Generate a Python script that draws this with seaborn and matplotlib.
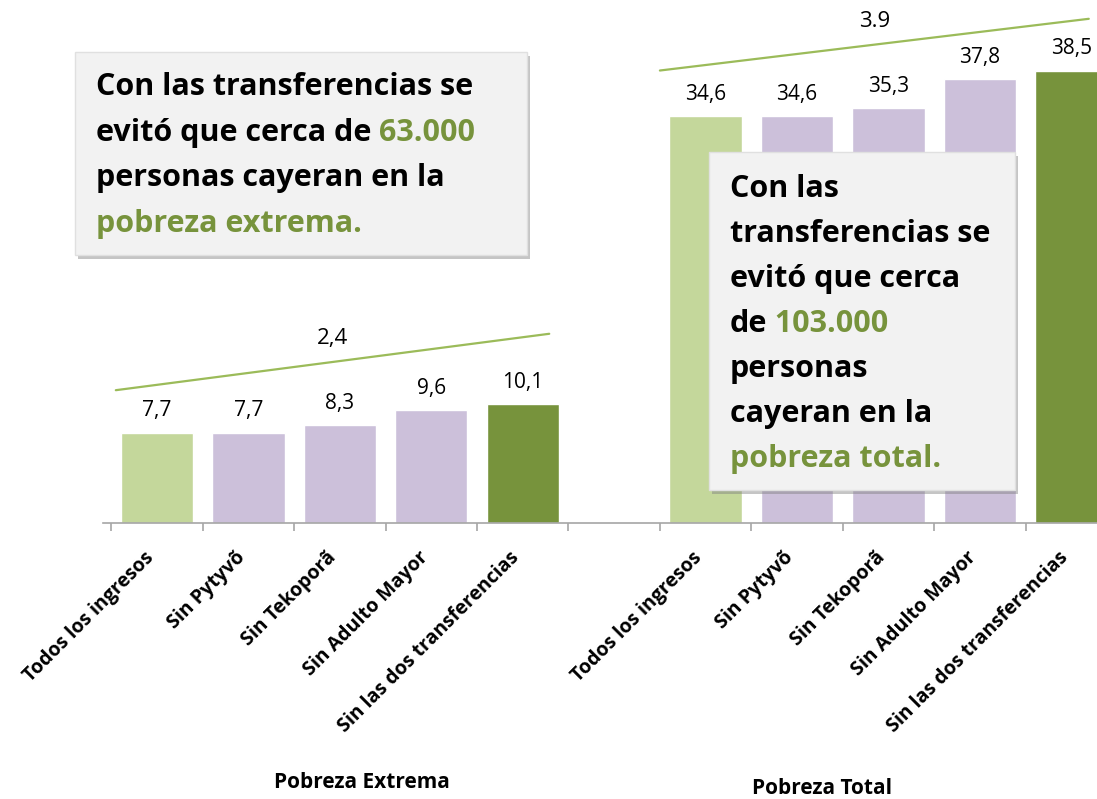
import matplotlib
matplotlib.use("Agg")
import matplotlib.pyplot as plt
from matplotlib.patches import FancyBboxPatch
from matplotlib.text import Annotation
import seaborn as sns
import pandas as pd
import numpy as np

# data
categories = ["Todos los ingresos", "Sin Pytyvõ", "Sin Tekoporã",
              "Sin Adulto Mayor", "Sin las dos transferencias"]
extrema = [7.7, 7.7, 8.3, 9.6, 10.1]
total = [34.6, 34.6, 35.3, 37.8, 38.5]
groups = ["Pobreza Extrema", "Pobreza Total"]
gap_labels = ["2,4", "3.9"]

LIGHT_GREEN = "#c4d79b"
LAVENDER = "#ccc0da"
DARK_GREEN = "#77933c"
TEXT_GREEN = "#77933c"
LINE_GREEN = "#9bbb59"
bar_colors = [LIGHT_GREEN, LAVENDER, LAVENDER, LAVENDER, DARK_GREEN]


def build_frame():
    rows = []
    for g, vals in zip(groups, [extrema, total]):
        for cat, v, col in zip(categories, vals, bar_colors):
            rows.append({"key": f"{g}|{cat}", "label": cat, "value": v,
                         "group": g, "color": col})
    return pd.DataFrame(rows)


def rich_line(fig, x, y, parts, size):
    # one line of text whose pieces have different colours
    s, c = parts[0]
    t = fig.text(x, y, s, color=c, fontsize=size, fontweight="bold",
                 va="baseline", ha="left", zorder=5)
    for s, c in parts[1:]:
        t = fig.add_artist(Annotation(s, xy=(1, 0), xycoords=t, va="bottom",
                                      ha="left", color=c, fontsize=size,
                                      fontweight="bold", zorder=5))


def text_box(fig, x0, y0, w, h):
    px = 1 / fig.bbox.width
    py = 1 / fig.bbox.height
    shadow = FancyBboxPatch((x0 + 3 * px, y0 - 4 * py), w, h,
                            boxstyle="square,pad=0", transform=fig.transFigure,
                            facecolor="#7f7f7f", edgecolor="none", alpha=0.45,
                            zorder=3)
    box = FancyBboxPatch((x0, y0), w, h, boxstyle="square,pad=0",
                         transform=fig.transFigure, facecolor="#f2f2f2",
                         edgecolor="#e0e0e0", linewidth=1.0, zorder=4)
    fig.add_artist(shadow)
    fig.add_artist(box)


def main():
    sns.set_style("white")
    plt.rcParams["font.family"] = ["Open Sans", "DejaVu Sans"]
    plt.rcParams["text.color"] = "black"
    plt.rcParams["xtick.labelcolor"] = "black"

    df = build_frame()
    order = list(df["key"][:5]) + ["gap"] + list(df["key"][5:])
    palette = dict(zip(df["key"], df["color"]))

    W, H = 1097, 799
    fig = plt.figure(figsize=(W / 100, H / 100), dpi=100)
    ax = fig.add_axes([103 / W, 1 - 523 / H, 1 - 103 / W, 523 / H])

    sns.barplot(data=df, x="key", y="value", hue="key", order=order,
                palette=palette, width=0.79, legend=False, ax=ax,
                saturation=1)

    for c in ax.containers:
        ax.bar_label(c, labels=[f"{v:.1f}".replace(".", ",") for v in c.datavalues],
                     padding=8, fontsize=15, color="black")

    ax.set_yticks([])
    ax.set_ylabel("")
    ax.set_xlabel("")
    for side in ["left", "top", "right"]:
        ax.spines[side].set_visible(False)
    ax.spines["bottom"].set_color("#a6a6a6")
    ax.spines["bottom"].set_linewidth(1.2)

    pos = [i for i, k in enumerate(order) if k != "gap"]
    # label anchors sit slightly left of the bar centres (ticks are hidden)
    ax.set_xticks([p - 0.07 for p in pos], labels=list(df["label"]))
    for lab in ax.get_xticklabels():
        lab.set_rotation(45)
        lab.set_ha("right")
        lab.set_va("center")
        lab.set_rotation_mode("anchor")
        lab.set_fontweight("bold")
        lab.set_fontsize(14)
        lab.set_color("black")
    ax.set_xticks(np.arange(-0.5, 10, 1), minor=True)
    ax.tick_params(axis="x", which="major", length=0, pad=23)
    ax.tick_params(axis="x", which="minor", bottom=True, length=6, width=1.2,
                   color="#a6a6a6", direction="out")
    ax.set_ylim(0, 44.5)
    ax.set_xlim(-0.59, 10.28)

    # trend lines above each group with the gap between first and last bar
    lifts = [(3.6, 6.0), (3.9, 4.4)]
    spans = [(-0.45, 0.29), (-0.5, 0.19)]
    for gi, (vals, (l0, l1), (s0, s1), lab) in enumerate(
            zip([extrema, total], lifts, spans, gap_labels)):
        xa = pos[gi * 5] + s0
        xb = pos[gi * 5 + 4] + s1
        ya = vals[0] + l0
        yb = vals[-1] + l1
        ax.plot([xa, xb], [ya, yb], color=LINE_GREEN, lw=1.6, clip_on=False)
        ax.text((xa + xb) / 2, (ya + yb) / 2 + 1.1, lab, ha="center",
                va="bottom", fontsize=16, color="black")

    # group titles
    fig.text(362 / W, 1 - 783 / H, groups[0], ha="center", va="center",
             fontsize=15, fontweight="bold")
    fig.text(822 / W, 1 - 788 / H, groups[1], ha="center", va="center",
             fontsize=15, fontweight="bold")

    # callout boxes
    text_box(fig, 75 / W, 1 - 255 / H, 452 / W, 203 / H)
    left_lines = [
        [("Con las transferencias se", "black")],
        [("evitó que cerca de", "black"), (" 63.000", TEXT_GREEN)],
        [("personas cayeran en la", "black")],
        [("pobreza extrema.", TEXT_GREEN)],
    ]
    for i, parts in enumerate(left_lines):
        rich_line(fig, 96 / W, 1 - (95 + 45.6 * i) / H, parts, 22)

    text_box(fig, 709 / W, 1 - 490 / H, 306 / W, 338 / H)
    right_lines = [
        [("Con las", "black")],
        [("transferencias se", "black")],
        [("evitó que cerca", "black")],
        [("de", "black"), (" 103.000", TEXT_GREEN)],
        [("personas", "black")],
        [("cayeran en la", "black")],
        [("pobreza total.", TEXT_GREEN)],
    ]
    for i, parts in enumerate(right_lines):
        rich_line(fig, 730 / W, 1 - (197 + 45 * i) / H, parts, 22)

    fig.savefig("out.png", dpi=100)


if __name__ == "__main__":
    main()
